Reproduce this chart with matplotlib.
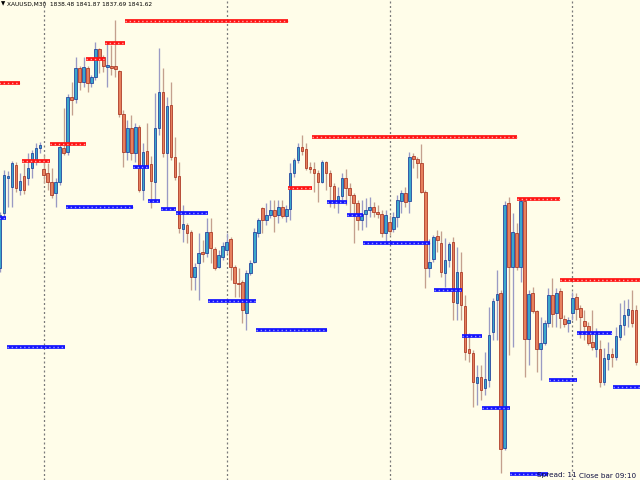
import matplotlib
matplotlib.use('Agg')
import matplotlib.pyplot as plt
import numpy as np

# ---- candle data (XAUUSD M30) ----
opens = [1843.2, 1848.7, 1852.2, 1851.3, 1853.5, 1851.0, 1852.4, 1852.2, 1853.2, 1854.0,
         1855.2, 1853.1, 1852.7, 1851.8, 1850.7, 1851.8, 1855.2, 1854.8, 1860.3, 1860.1,
         1863.2, 1861.8, 1863.2, 1861.7, 1862.3, 1865.1, 1864.3, 1863.3, 1863.4, 1863.4,
         1862.9, 1858.6, 1854.8, 1857.2, 1854.7, 1857.3, 1851.0, 1854.9, 1853.6, 1851.8,
         1857.2, 1860.8, 1854.7, 1859.5, 1854.3, 1852.4, 1847.1, 1847.5, 1846.8, 1842.3,
         1843.7, 1844.8, 1844.7, 1846.8, 1845.1, 1843.3, 1844.3, 1845.0, 1846.1, 1843.3,
         1841.7, 1841.8, 1838.7, 1842.7, 1843.8, 1846.7, 1849.2, 1848.0, 1848.5, 1849.0,
         1848.5, 1849.3, 1848.4, 1849.1, 1852.7, 1854.0, 1855.3, 1855.1, 1853.3, 1853.1,
         1852.7, 1851.8, 1853.8, 1852.7, 1851.4, 1849.8, 1850.4, 1852.2, 1851.2, 1850.5,
         1849.7, 1848.0, 1848.6, 1849.0, 1849.3, 1848.8, 1848.6, 1846.7, 1847.8, 1847.1,
         1848.3, 1849.9, 1850.7, 1849.9, 1854.4, 1854.1, 1853.7, 1850.8, 1843.2, 1844.1,
         1846.4, 1845.7, 1842.7, 1844.0, 1845.8, 1839.7, 1842.8, 1839.4, 1835.1, 1834.7,
         1831.7, 1832.3, 1831.2, 1832.0, 1836.8, 1840.0, 1840.7, 1825.2, 1849.7, 1843.3,
         1846.7, 1843.3, 1849.9, 1836.1, 1840.7, 1838.9, 1835.1, 1835.7, 1837.7, 1840.5,
         1838.7, 1840.9, 1838.1, 1837.7, 1838.7, 1840.3, 1839.2, 1837.9, 1837.4, 1835.8,
         1835.1, 1835.1, 1831.8, 1834.1, 1834.6, 1834.3, 1836.3, 1837.5, 1838.5, 1839.0,
         1839.0]
highs = [1848.8, 1853.0, 1852.9, 1853.9, 1853.8, 1852.7, 1853.7, 1854.7, 1855.0, 1855.7,
         1855.8, 1854.5, 1853.7, 1853.2, 1852.2, 1855.7, 1859.2, 1860.6, 1861.8, 1864.3,
         1863.4, 1864.3, 1863.4, 1862.5, 1865.8, 1865.2, 1864.5, 1865.8, 1865.5, 1868.0,
         1863.0, 1859.0, 1858.0, 1858.5, 1857.7, 1857.5, 1855.7, 1857.7, 1854.4, 1860.7,
         1865.2, 1863.2, 1860.3, 1861.8, 1856.3, 1853.8, 1849.5, 1847.7, 1847.0, 1843.7,
         1846.7, 1846.0, 1848.2, 1848.2, 1845.3, 1845.0, 1845.8, 1846.7, 1846.3, 1843.5,
         1843.2, 1842.0, 1843.0, 1844.0, 1847.2, 1848.2, 1849.3, 1849.7, 1850.0, 1850.0,
         1850.0, 1850.0, 1849.5, 1853.7, 1854.2, 1855.7, 1856.5, 1855.7, 1853.8, 1853.8,
         1853.0, 1854.0, 1853.9, 1853.0, 1851.7, 1851.3, 1852.7, 1853.1, 1851.7, 1850.7,
         1850.0, 1850.0, 1850.2, 1850.3, 1849.8, 1849.5, 1849.0, 1849.0, 1848.5, 1848.8,
         1850.5, 1851.0, 1851.3, 1854.8, 1854.7, 1854.3, 1855.6, 1851.0, 1846.1, 1846.5,
         1847.0, 1846.9, 1846.2, 1845.8, 1846.3, 1845.3, 1844.8, 1840.5, 1836.7, 1835.0,
         1833.5, 1833.5, 1834.8, 1839.3, 1840.2, 1843.0, 1841.0, 1849.9, 1850.3, 1848.7,
         1847.7, 1850.2, 1850.2, 1841.0, 1841.3, 1839.0, 1838.3, 1838.0, 1841.2, 1842.2,
         1841.2, 1841.2, 1838.5, 1838.3, 1840.8, 1840.7, 1839.5, 1839.0, 1837.8, 1839.0,
         1837.2, 1836.0, 1835.2, 1835.8, 1835.2, 1837.3, 1839.7, 1840.0, 1840.1, 1841.0,
         1839.5]
lows = [1842.8, 1848.2, 1849.3, 1849.3, 1850.8, 1850.5, 1850.6, 1851.5, 1852.2, 1853.5,
        1854.7, 1851.7, 1851.0, 1850.2, 1849.3, 1851.5, 1854.5, 1854.5, 1858.5, 1859.7,
        1861.0, 1861.3, 1860.8, 1861.3, 1862.0, 1862.7, 1862.8, 1861.3, 1862.5, 1862.3,
        1858.3, 1853.3, 1854.0, 1854.0, 1853.8, 1850.8, 1850.0, 1853.3, 1849.2, 1850.0,
        1856.5, 1854.3, 1849.0, 1854.0, 1852.0, 1846.7, 1845.8, 1845.7, 1841.0, 1841.0,
        1840.0, 1843.8, 1844.3, 1843.7, 1843.0, 1843.2, 1844.0, 1844.7, 1842.0, 1840.3,
        1840.3, 1837.7, 1837.0, 1842.5, 1843.7, 1846.3, 1846.7, 1847.5, 1848.2, 1846.8,
        1847.7, 1848.2, 1847.8, 1848.0, 1852.3, 1853.7, 1854.5, 1853.0, 1852.7, 1850.8,
        1849.8, 1851.7, 1851.0, 1849.3, 1849.2, 1848.7, 1850.0, 1849.5, 1848.7, 1845.7,
        1847.0, 1847.0, 1847.3, 1848.3, 1848.3, 1848.2, 1846.3, 1845.8, 1846.5, 1846.8,
        1847.3, 1848.7, 1849.3, 1848.7, 1853.2, 1852.2, 1850.7, 1841.2, 1842.3, 1843.8,
        1844.8, 1842.3, 1841.3, 1843.3, 1838.0, 1838.0, 1838.0, 1834.0, 1833.8, 1829.3,
        1829.5, 1830.0, 1830.5, 1831.3, 1836.0, 1836.0, 1822.7, 1825.0, 1834.5, 1835.3,
        1843.0, 1841.8, 1832.3, 1833.5, 1838.7, 1832.8, 1832.0, 1835.5, 1837.3, 1837.3,
        1837.3, 1837.2, 1837.3, 1836.8, 1838.0, 1838.0, 1836.2, 1836.0, 1835.5, 1835.0,
        1834.3, 1831.3, 1831.5, 1833.0, 1833.3, 1834.0, 1836.0, 1836.5, 1837.3, 1837.3,
        1833.5]
closes = [1848.5, 1852.5, 1852.4, 1853.7, 1851.2, 1851.9, 1851.0, 1853.2, 1854.7, 1855.2,
          1855.5, 1852.5, 1851.8, 1850.5, 1851.8, 1855.3, 1854.7, 1860.3, 1860.0, 1863.2,
          1861.8, 1863.3, 1861.7, 1862.3, 1865.1, 1864.3, 1863.4, 1863.5, 1863.2, 1863.1,
          1858.6, 1854.8, 1857.2, 1854.7, 1857.3, 1851.0, 1854.8, 1853.4, 1851.9, 1857.2,
          1860.8, 1854.7, 1859.4, 1854.3, 1852.3, 1847.2, 1847.6, 1846.7, 1842.3, 1843.3,
          1844.7, 1844.6, 1846.8, 1845.2, 1843.2, 1844.5, 1845.4, 1845.8, 1843.3, 1841.7,
          1841.6, 1839.0, 1842.7, 1843.7, 1846.8, 1848.0, 1848.0, 1848.5, 1849.0, 1848.4,
          1849.3, 1848.4, 1849.1, 1852.7, 1854.0, 1855.3, 1854.9, 1853.2, 1853.1, 1852.7,
          1851.8, 1853.8, 1852.7, 1851.4, 1849.8, 1850.4, 1852.2, 1851.2, 1850.5, 1849.7,
          1848.0, 1848.6, 1849.0, 1849.3, 1848.8, 1848.6, 1846.7, 1848.5, 1846.9, 1848.3,
          1850.0, 1850.7, 1849.8, 1854.3, 1854.1, 1853.7, 1850.8, 1843.2, 1843.8, 1846.3,
          1846.0, 1842.8, 1844.0, 1845.6, 1839.8, 1842.8, 1839.5, 1834.8, 1834.7, 1831.8,
          1832.3, 1831.0, 1832.1, 1836.5, 1839.9, 1840.6, 1825.1, 1849.5, 1843.3, 1846.8,
          1843.3, 1849.9, 1836.1, 1840.6, 1838.9, 1835.1, 1835.7, 1837.7, 1840.5, 1838.6,
          1840.7, 1838.2, 1837.6, 1838.0, 1840.2, 1839.1, 1838.3, 1837.4, 1835.7, 1835.3,
          1836.7, 1831.8, 1834.2, 1834.6, 1834.3, 1836.4, 1837.5, 1838.5, 1839.1, 1837.7,
          1833.8]

# ---- support / resistance levels: price, first bar, last bar ----
red_levels = [1861.7, 1853.9, 1855.6, 1864.1, 1865.7, 1867.9, 1851.2, 1856.3, 1850.1, 1842.0]
red_start = [-1, 5.5, 12.5, 21.5, 26.5, 31.5, 72.5, 78.5, 130.0, 141.0]
red_end = [5.0, 12.5, 21.5, 26.5, 31.5, 72.5, 78.5, 130.0, 141.0, 162.0]

blue_levels = [1848.2, 1835.3, 1849.3, 1853.3, 1849.9, 1849.1, 1848.7, 1839.9, 1837.0, 1849.8,
               1848.5, 1845.7, 1841.0, 1836.4, 1829.2, 1822.6, 1832.0, 1836.7, 1831.3]
blue_start = [-1, 1.7, 16.6, 33.5, 37.2, 40.5, 44.3, 52.3, 64.4, 82.3,
              87.3, 91.3, 109.2, 116.2, 121.3, 128.3, 138.1, 145.2, 154.2]
blue_end = [1.5, 16.3, 33.5, 37.5, 40.2, 44.3, 52.3, 64.4, 82.3, 87.3,
            91.3, 108.2, 116.2, 121.3, 128.3, 137.9, 145.2, 154.0, 162.0]

# day separators (bar index)
separators = [11, 57, 98, 144]

header = "XAUUSD,M30  1838.48 1841.87 1837.69 1841.62"
footer_a = "Spread: 11"
footer_b = "Close bar 09:10"

BG = '#fffde9'
UP_FILL, UP_EDGE, UP_WICK = '#3aa7cc', '#1e3c9a', '#9a9ac4'
DN_FILL, DN_EDGE, DN_WICK = '#e6805e', '#a8321e', '#c4a08e'

o = np.array(opens); h = np.array(highs); l = np.array(lows); c = np.array(closes)
x = np.arange(len(o))
up = c >= o
dn = ~up

fig = plt.figure(figsize=(6.4, 4.8), dpi=100)
fig.patch.set_facecolor(BG)
ax = fig.add_axes([0, 0, 1, 1])
ax.set_facecolor(BG)
ax.set_xlim(-0.02, 161.03)
ax.set_ylim(1822, 1870)
ax.axis('off')

for s in separators:
    ax.axvline(s, color='#7a7a7a', lw=0.9, linestyle=(0, (1.6, 2.0)), zorder=1)

ax.vlines(x[up], l[up], h[up], color=UP_WICK, lw=0.95, zorder=2)
ax.vlines(x[dn], l[dn], h[dn], color=DN_WICK, lw=0.95, zorder=2)
ax.bar(x[up], (c - o)[up], bottom=o[up], width=0.66, color=UP_FILL,
       edgecolor=UP_EDGE, linewidth=0.55, zorder=3)
ax.bar(x[dn], (c - o)[dn], bottom=o[dn], width=0.66, color=DN_FILL,
       edgecolor=DN_EDGE, linewidth=0.55, zorder=3)

for lv, s, e in zip(red_levels, red_start, red_end):
    ax.hlines(lv, s, e, color='#ff1414', lw=2.7, zorder=5)
    ax.hlines(lv, s, e, color='#ffaaaa', lw=1.0, linestyles=[(0, (1, 2))], zorder=6)
for lv, s, e in zip(blue_levels, blue_start, blue_end):
    ax.hlines(lv, s, e, color='#1414ff', lw=2.7, zorder=5)
    ax.hlines(lv, s, e, color='#9a9aff', lw=1.0, linestyles=[(0, (1, 2))], zorder=6)

fig.text(1 / 640, 1 - 4 / 480, '\u25bc', fontsize=4, va='center', ha='left',
         color='black', family=['DejaVu Sans'])
fig.text(7 / 640, 1 - 4 / 480, header, fontsize=4.2, va='center', ha='left',
         color='black', family=['Liberation Sans Narrow', 'DejaVu Sans'])
fig.text(537 / 640, 1.5 / 480, footer_a, fontsize=5.2, va='bottom', ha='left',
         color='#101040', family=['DejaVu Sans'])
fig.text(579 / 640, 1.5 / 480, footer_b, fontsize=5.2, va='bottom', ha='left',
         color='#101040', family=['DejaVu Sans'])

fig.savefig('out.png', dpi=100, facecolor=BG)
